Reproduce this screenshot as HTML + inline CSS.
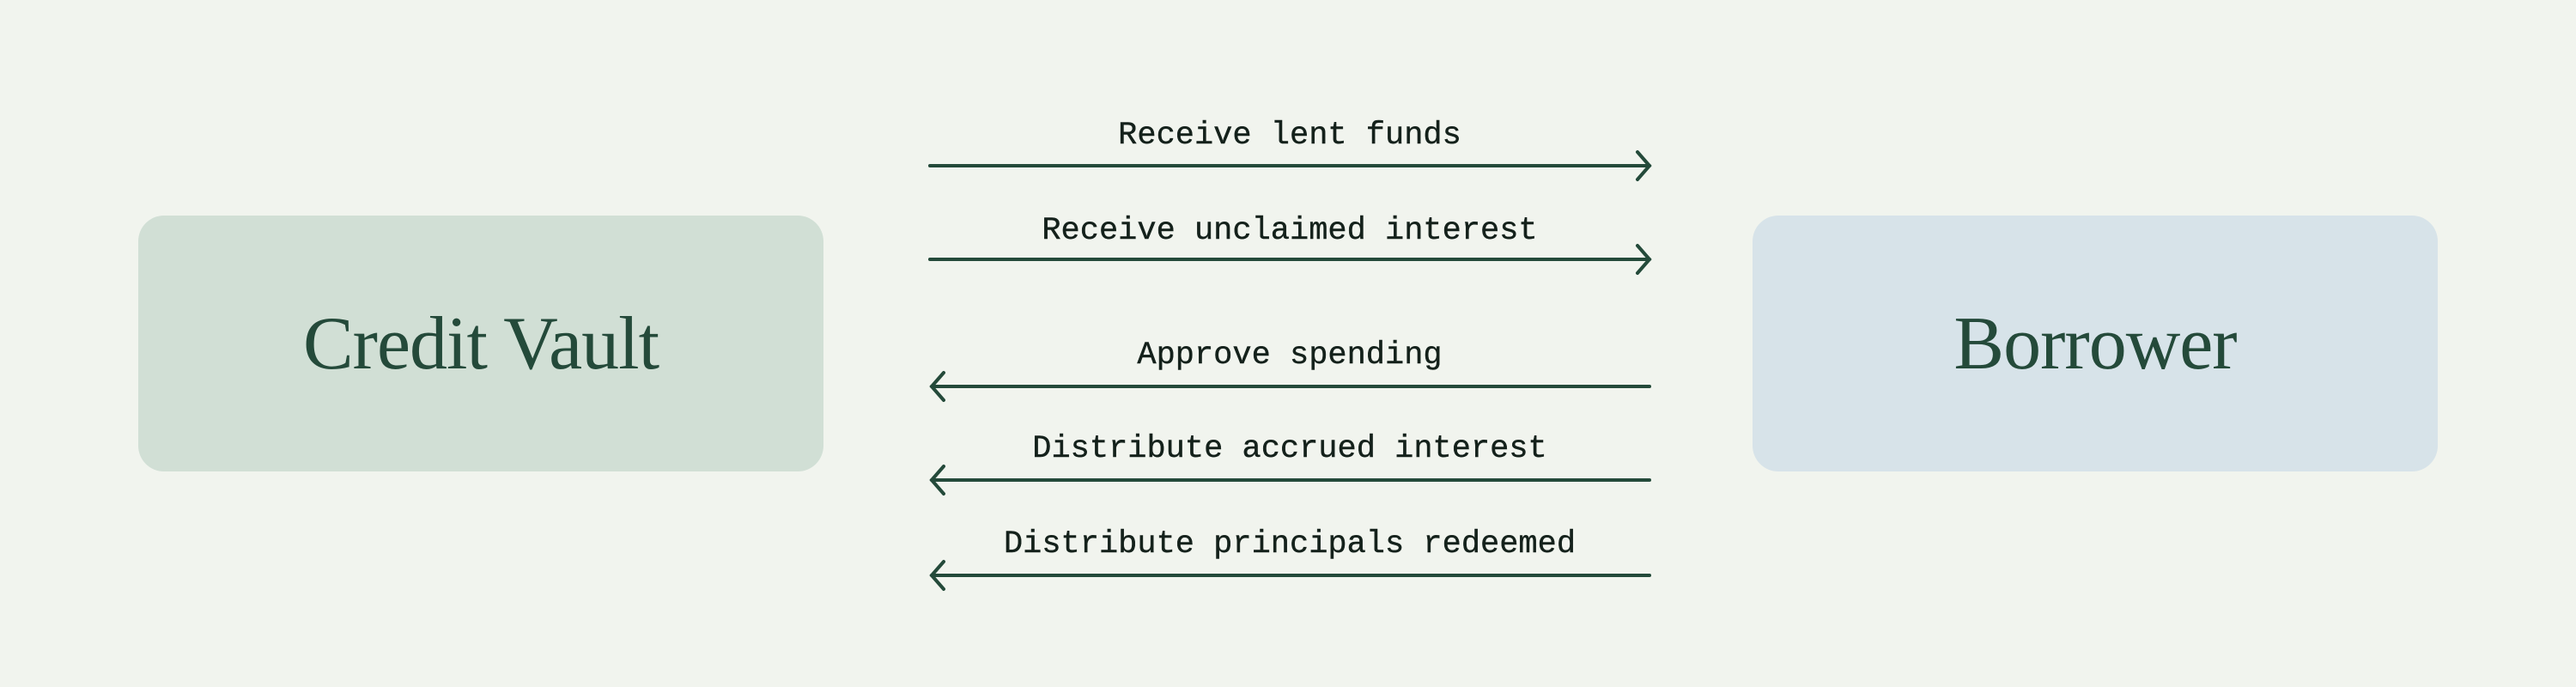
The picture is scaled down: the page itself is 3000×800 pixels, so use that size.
<!DOCTYPE html>
<html><head><style>
html,body{margin:0;padding:0;}
body{width:3000px;height:800px;background:#f1f4ee;position:relative;overflow:hidden;}
.box{position:absolute;top:251px;width:798px;height:298px;border-radius:30px;display:flex;align-items:center;justify-content:center;font-family:"Liberation Serif",serif;font-size:88px;color:#244a3a;letter-spacing:-1px;}
</style></head><body>
<div class="box" style="left:161px;background:#d1dfd5;">Credit Vault</div>
<div class="box" style="left:2041px;background:#d7e3e9;">Borrower</div>
<svg width="3000" height="800" style="position:absolute;left:0;top:0">
<g font-family="Liberation Mono, monospace" font-size="37" fill="#14211b" text-anchor="middle" stroke="#14211b" stroke-width="0.4">
<text x="1502" y="167">Receive lent funds</text>
<text x="1502" y="278">Receive unclaimed interest</text>
<text x="1502" y="423">Approve spending</text>
<text x="1502" y="532">Distribute accrued interest</text>
<text x="1502" y="643">Distribute principals redeemed</text>
</g>
<g stroke="#244a3a" stroke-width="4" fill="none" stroke-linecap="round">
<line x1="1083" y1="193" x2="1921" y2="193"/><polyline points="1907,177 1921,193 1907,209"/>
<line x1="1083" y1="302" x2="1921" y2="302"/><polyline points="1907,286 1921,302 1907,318"/>
<line x1="1085" y1="450" x2="1921" y2="450"/><polyline points="1099,434 1085,450 1099,466"/>
<line x1="1085" y1="559" x2="1921" y2="559"/><polyline points="1099,543 1085,559 1099,575"/>
<line x1="1085" y1="670" x2="1921" y2="670"/><polyline points="1099,654 1085,670 1099,686"/>
</g>
</svg>
</body></html>
